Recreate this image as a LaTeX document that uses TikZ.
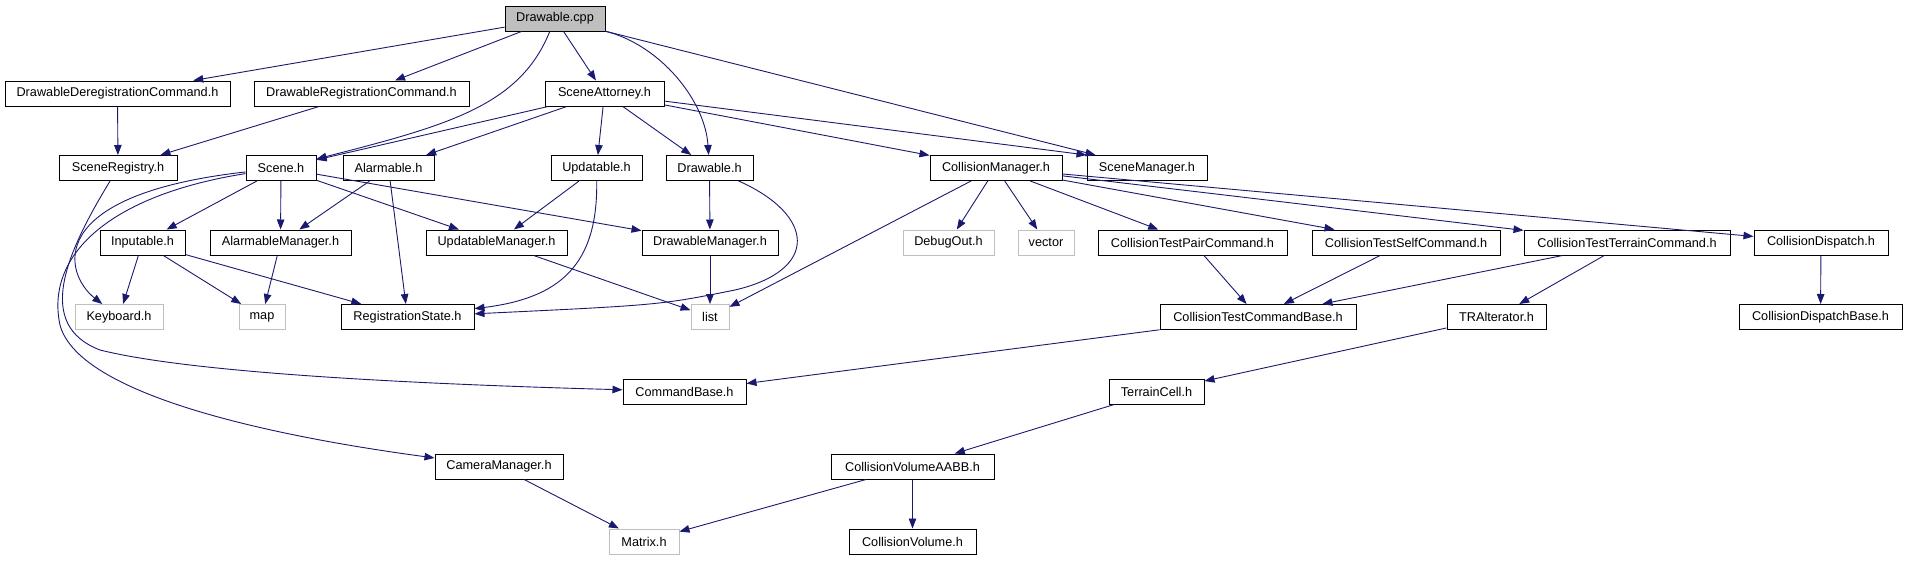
\documentclass[tikz,border=0pt]{standalone}
\usepackage{fontspec}
\setmainfont{Liberation Sans}
\usetikzlibrary{arrows.meta}
\definecolor{edgeblue}{HTML}{191970}
\definecolor{sysgray}{HTML}{BFBFBF}
\begin{document}
\begin{tikzpicture}[
  x=1pt, y=-1pt,
  font=\fontsize{12.7}{14}\selectfont,
  >={Triangle[length=10pt,width=7.5pt]},
  hdr/.style={draw=black, line width=1pt, inner sep=0pt, minimum height=25pt},
  sys/.style={draw=sysgray, line width=1pt, inner sep=0pt, minimum height=25pt},
  src/.style={hdr, fill=sysgray},
  arr/.style={->, draw=edgeblue, line width=0.9pt}
]
\useasboundingbox (0,0) rectangle (1907,560);

\node[src, minimum width=100pt] (cpp) at (555,18.5) {Drawable.cpp};

\node[hdr, minimum width=225pt] (ddc) at (117.5,93.5) {DrawableDeregistrationCommand.h};
\node[hdr, minimum width=215pt] (drc) at (361.5,93.5) {DrawableRegistrationCommand.h};
\node[hdr, minimum width=119pt] (satt) at (604.5,93.5) {SceneAttorney.h};

\node[hdr, minimum width=118pt] (sreg) at (118,168) {SceneRegistry.h};
\node[hdr, minimum width=70pt] (scene) at (281,168) {Scene.h};
\node[hdr, minimum width=91pt] (alarm) at (388.5,168) {Alarmable.h};
\node[hdr, minimum width=91pt] (upd) at (596.5,168) {Updatable.h};
\node[hdr, minimum width=87pt] (drh) at (709.5,168) {Drawable.h};
\node[hdr, minimum width=132pt] (colm) at (996,168) {CollisionManager.h};
\node[hdr, minimum width=120pt] (scm) at (1147,168) {SceneManager.h};

\node[hdr, minimum width=85pt] (inp) at (142.5,242.5) {Inputable.h};
\node[hdr, minimum width=141pt] (alm) at (280.5,242.5) {AlarmableManager.h};
\node[hdr, minimum width=141pt] (updm) at (496.5,242.5) {UpdatableManager.h};
\node[hdr, minimum width=136pt] (drm) at (710,242.5) {DrawableManager.h};
\node[sys, minimum width=91pt] (dbg) at (948.5,242.5) {DebugOut.h};
\node[sys, minimum width=56pt] (vec) at (1046,242.5) {vector};
\node[hdr, minimum width=189pt] (ctp) at (1192.5,242.5) {CollisionTestPairCommand.h};
\node[hdr, minimum width=188pt] (cts) at (1406,242.5) {CollisionTestSelfCommand.h};
\node[hdr, minimum width=206pt] (ctt) at (1627,242.5) {CollisionTestTerrainCommand.h};
\node[hdr, minimum width=134pt] (cdis) at (1821,242.5) {CollisionDispatch.h};

\node[sys, minimum width=88pt] (kbd) at (119,317) {Keyboard.h};
\node[sys, minimum width=46pt] (map) at (262,317) {map};
\node[hdr, minimum width=133pt] (rst) at (407.5,317) {RegistrationState.h};
\node[sys, minimum width=38pt] (list) at (710,317) {list};
\node[hdr, minimum width=196pt] (ctcb) at (1258,317) {CollisionTestCommandBase.h};
\node[hdr, minimum width=99pt] (tra) at (1496.5,317) {TRAlterator.h};
\node[hdr, minimum width=163pt] (cdb) at (1820.5,317) {CollisionDispatchBase.h};

\node[hdr, minimum width=123pt] (cmb) at (684.5,391.5) {CommandBase.h};
\node[hdr, minimum width=95pt] (tcell) at (1156.5,391.5) {TerrainCell.h};

\node[hdr, minimum width=128pt] (cam) at (499,466.5) {CameraManager.h};
\node[hdr, minimum width=163pt] (cvaabb) at (912.5,466.5) {CollisionVolumeAABB.h};

\node[sys, minimum width=70pt] (mat) at (644,541.5) {Matrix.h};
\node[hdr, minimum width=127pt] (cvol) at (912.5,541.5) {CollisionVolume.h};

\draw[arr] (cpp) -- (ddc);
\draw[arr] (cpp) -- (drc);
\draw[arr] (cpp) .. controls (520,105) and (450,125) .. (scene);
\draw[arr] (cpp) -- (satt);
\draw[arr] (cpp) .. controls (660,45) and (705,100) .. (drh);
\draw[arr] (cpp) -- (scm);

\draw[arr] (ddc) -- (sreg);
\draw[arr] (drc) -- (sreg);

\draw[arr] (satt) -- (scene);
\draw[arr] (satt) -- (alarm);
\draw[arr] (satt) -- (upd);
\draw[arr] (satt) -- (drh);
\draw[arr] (satt) -- (colm);
\draw[arr] (satt) -- (scm.north west);

\draw[arr] (sreg) .. controls (65,255) and (35,325) .. (100,350) .. controls (200,375) and (450,385) .. (cmb);

\draw[arr] (scene) -- (inp);
\draw[arr] (scene) -- (alm);
\draw[arr] (scene) -- (updm);
\draw[arr] (scene) -- (drm);
\draw[arr] (scene) .. controls (40,195) and (65,275) .. (kbd);
\draw[arr] (scene) .. controls (110,195) and (45,255) .. (60,325) .. controls (80,400) and (300,440) .. (cam);

\draw[arr] (alarm) -- (alm);
\draw[arr] (alarm) -- (rst);
\draw[arr] (upd) -- (updm);
\draw[arr] (upd) .. controls (598,265) and (560,298) .. (rst);
\draw[arr] (drh) -- (drm);
\draw[arr] (drh) .. controls (815,215) and (820,270) .. (735,290) .. controls (660,305) .. (rst);

\draw[arr] (colm) -- (list);
\draw[arr] (colm) -- (dbg);
\draw[arr] (colm) -- (vec);
\draw[arr] (colm) -- (ctp);
\draw[arr] (colm) -- (cts);
\draw[arr] (colm) -- (ctt);
\draw[arr] (colm) -- (cdis);

\draw[arr] (inp) -- (kbd);
\draw[arr] (inp) -- (map);
\draw[arr] (inp) -- (rst);
\draw[arr] (alm) -- (map);
\draw[arr] (updm) -- (list);
\draw[arr] (drm) -- (list);

\draw[arr] (ctp) -- (ctcb);
\draw[arr] (cts) -- (ctcb);
\draw[arr] (ctt) -- (ctcb);
\draw[arr] (ctt) -- (tra);
\draw[arr] (cdis) -- (cdb);

\draw[arr] (ctcb) -- (cmb);
\draw[arr] (tra) -- (tcell);
\draw[arr] (tcell) -- (cvaabb);

\draw[arr] (cam) -- (mat);
\draw[arr] (cvaabb) -- (mat);
\draw[arr] (cvaabb) -- (cvol);
\end{tikzpicture}
\end{document}
